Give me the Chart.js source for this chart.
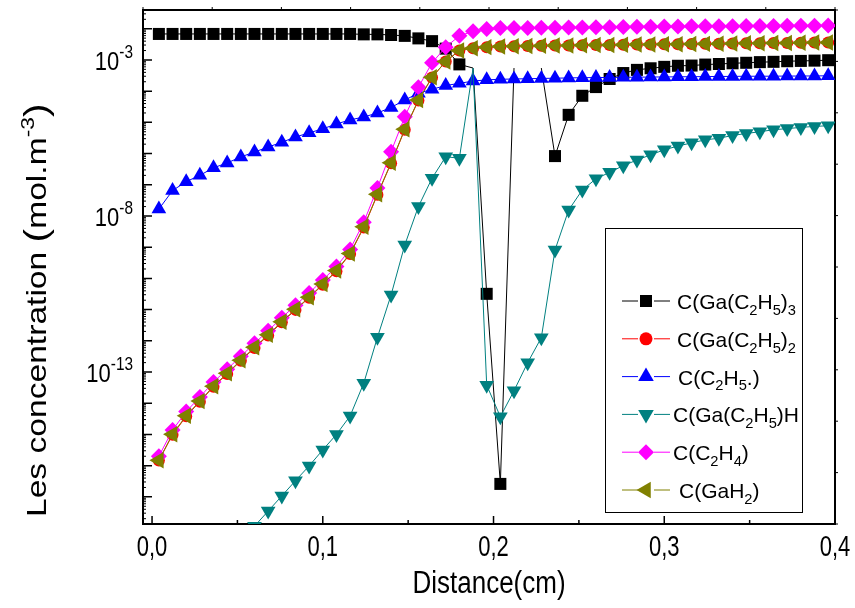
<!DOCTYPE html>
<html lang="fr">
<head>
<meta charset="UTF-8">
<title>Les concentration</title>
<script src="https://cdn.jsdelivr.net/npm/chart.js"></script>
<style>
  html, body { margin: 0; padding: 0; background: #fff; }
</style>
</head>
<body>
<canvas id="chart" width="855" height="608"></canvas>
<script>
// distance (cm), same grid for every species
const distance = [0.004, 0.012, 0.02, 0.028, 0.036, 0.044, 0.052, 0.06, 0.068, 0.076,
  0.084, 0.092, 0.1, 0.108, 0.116, 0.124, 0.132, 0.14, 0.148, 0.156,
  0.164, 0.172, 0.18, 0.188, 0.196, 0.204, 0.212, 0.22, 0.228, 0.236,
  0.244, 0.252, 0.26, 0.268, 0.276, 0.284, 0.292, 0.3, 0.308, 0.316,
  0.324, 0.332, 0.34, 0.348, 0.356, 0.364, 0.372, 0.38, 0.388, 0.396];

// concentrations (mol.m-3)
const cGaEt3 = [6.8e-3, 6.8e-3, 6.8e-3, 6.8e-3, 6.8e-3, 6.8e-3, 6.8e-3, 6.8e-3, 6.8e-3, 6.8e-3,
  6.8e-3, 6.8e-3, 6.8e-3, 6.8e-3, 6.8e-3, 6.6e-3, 6.6e-3, 6.3e-3, 5.9e-3, 4.9e-3,
  4.0e-3, 2.3e-3, 7.2e-4, 5.5e-4, 3.2e-11, 2.6e-17, 5.5e-4, null, 5.5e-4, 8.3e-7,
  1.74e-5, 7.1e-5, 1.35e-4, 2.45e-4, 3.8e-4, 4.8e-4, 5.4e-4, 6.0e-4, 6.5e-4, 6.6e-4,
  7.1e-4, 7.4e-4, 7.8e-4, 8.1e-4, 8.5e-4, 8.7e-4, 9.1e-4, 9.3e-4, 9.5e-4, 9.8e-4];
const cGaEt2 = [1.45e-16, 9.8e-16, 3.8e-15, 1.12e-14, 3.4e-14, 8.7e-14, 2.3e-13, 5.9e-13, 1.48e-12, 3.9e-12,
  9.8e-12, 2.4e-11, 6.3e-11, 1.7e-10, 6.0e-10, 4.3e-9, 4.8e-8, 4.9e-7, 5.8e-6, 5.0e-5,
  2.75e-4, 8.9e-4, 2.0e-3, 2.37e-3, 2.57e-3, 2.7e-3, 2.75e-3, 2.8e-3, 2.85e-3, 2.9e-3,
  2.92e-3, 2.95e-3, 2.99e-3, 3.0e-3, 3.05e-3, 3.1e-3, 3.13e-3, 3.16e-3, 3.2e-3, 3.24e-3,
  3.27e-3, 3.3e-3, 3.35e-3, 3.4e-3, 3.43e-3, 3.47e-3, 3.5e-3, 3.55e-3, 3.6e-3, 3.63e-3];
const cEt = [1.66e-8, 6.5e-8, 1.26e-7, 2.0e-7, 3.5e-7, 5.0e-7, 7.8e-7, 1.12e-6, 1.62e-6, 2.3e-6,
  3.4e-6, 4.6e-6, 6.2e-6, 8.9e-6, 1.2e-5, 1.48e-5, 2.0e-5, 3.0e-5, 5.2e-5, 8.5e-5,
  1.15e-4, 1.51e-4, 1.78e-4, 2.1e-4, 2.3e-4, 2.4e-4, 2.45e-4, 2.5e-4, 2.55e-4, 2.6e-4,
  2.65e-4, 2.7e-4, 2.72e-4, 2.75e-4, 2.78e-4, 2.8e-4, 2.83e-4, 2.85e-4, 2.88e-4, 2.9e-4,
  2.92e-4, 2.95e-4, 2.97e-4, 3.0e-4, 3.0e-4, 3.02e-4, 3.04e-4, 3.05e-4, 3.07e-4, 3.1e-4];
const cGaEtH = [null, null, null, null, null, null, null, 1.15e-18, 3.5e-18, 1.07e-17,
  3.3e-17, 9.8e-17, 3.2e-16, 1.0e-15, 3.9e-15, 4.4e-14, 1.29e-12, 2.95e-11, 1.17e-9, 2.0e-8,
  1.62e-7, 7.9e-7, 7.1e-7, 5.4e-4, 3.8e-14, 3.7e-15, 2.5e-14, 2.0e-13, 1.26e-12, 8.1e-10,
  1.55e-8, 6.8e-8, 1.55e-7, 2.5e-7, 4.1e-7, 6.2e-7, 9.1e-7, 1.32e-6, 1.74e-6, 2.2e-6,
  2.75e-6, 3.1e-6, 3.8e-6, 4.4e-6, 5.0e-6, 5.8e-6, 6.3e-6, 6.9e-6, 7.4e-6, 7.8e-6];
const cC2H4 = [2.0e-16, 1.38e-15, 5.4e-15, 1.58e-14, 4.8e-14, 1.23e-13, 3.2e-13, 8.3e-13, 2.1e-12, 5.5e-12,
  1.38e-11, 3.4e-11, 8.9e-11, 2.4e-10, 8.5e-10, 6.3e-9, 7.9e-8, 1.15e-6, 1.51e-5, 1.33e-4,
  8.1e-4, 2.57e-3, 5.9e-3, 8.3e-3, 9.8e-3, 1.05e-2, 1.05e-2, 1.06e-2, 1.07e-2, 1.08e-2,
  1.09e-2, 1.1e-2, 1.11e-2, 1.12e-2, 1.13e-2, 1.15e-2, 1.16e-2, 1.17e-2, 1.18e-2, 1.19e-2,
  1.2e-2, 1.2e-2, 1.21e-2, 1.22e-2, 1.22e-2, 1.23e-2, 1.24e-2, 1.24e-2, 1.25e-2, 1.26e-2];
const cGaH2 = [1.5e-16, 1.02e-15, 4.0e-15, 1.17e-14, 3.5e-14, 9.1e-14, 2.4e-13, 6.2e-13, 1.55e-12, 4.1e-12,
  1.02e-11, 2.5e-11, 6.6e-11, 1.78e-10, 6.3e-10, 4.5e-9, 5.0e-8, 5.1e-7, 6.0e-6, 5.2e-5,
  2.8e-4, 8.9e-4, 2.0e-3, 2.37e-3, 2.57e-3, 2.7e-3, 2.75e-3, 2.8e-3, 2.85e-3, 2.9e-3,
  2.92e-3, 2.95e-3, 2.99e-3, 3.0e-3, 3.05e-3, 3.1e-3, 3.13e-3, 3.16e-3, 3.2e-3, 3.24e-3,
  3.27e-3, 3.3e-3, 3.35e-3, 3.4e-3, 3.43e-3, 3.47e-3, 3.5e-3, 3.55e-3, 3.6e-3, 3.63e-3];

// points where the curve spikes but no symbol is shown
const noSymbolGaEt3 = [23, 26, 28];
const noSymbolGaEtH = [23];

// axis ticks
const xMajorTicks = [0, 0.1, 0.2, 0.3, 0.4];
const xTickLabels = ['0,0', '0,1', '0,2', '0,3', '0,4'];
const xMinorTicks = [0.05, 0.15, 0.25, 0.35];
const yDecades = [-17, -16, -15, -14, -13, -12, -11, -10, -9, -8, -7, -6, -5, -4, -3, -2];
const yLabelDecades = [-3, -8, -13];

const FONT = '"Liberation Sans", Arial, sans-serif';

function series(label, values, color, style, radius, rotation, order, hidden) {
  return {
    label: label,
    data: distance.map((x, i) => ({ x: x, y: values[i] })),
    borderColor: color,
    backgroundColor: color,
    borderWidth: 1,
    pointStyle: style,
    pointRotation: rotation,
    pointBorderWidth: 0,
    pointRadius: ctx => (hidden && hidden.includes(ctx.dataIndex)) ? 0 : radius,
    spanGaps: false,
    tension: 0,
    order: order
  };
}

// text helper: runs of normal / sub / sup text, with optional vertical stretch
function drawRuns(ctx, runs, x, y, size, stretch) {
  ctx.save();
  ctx.translate(x, y);
  ctx.scale(1, stretch || 1);
  let cx = 0;
  runs.forEach(r => {
    const s = r.k ? size * 0.7 : size;
    ctx.font = s + 'px ' + FONT;
    const dy = r.k === 'sub' ? size * 0.28 : r.k === 'sup' ? -size * 0.45 : 0;
    ctx.fillText(r.t, cx, dy);
    cx += ctx.measureText(r.t).width;
  });
  ctx.restore();
}

const legendItems = [
  { color: '#000000', style: 'rect', radius: 8.5, rot: 0, tx: 677,
    runs: [{ t: 'C(Ga(C' }, { t: '2', k: 'sub' }, { t: 'H' }, { t: '5', k: 'sub' }, { t: ')' }, { t: '3', k: 'sub' }] },
  { color: '#ff0000', style: 'circle', radius: 6.5, rot: 0, tx: 677,
    runs: [{ t: 'C(Ga(C' }, { t: '2', k: 'sub' }, { t: 'H' }, { t: '5', k: 'sub' }, { t: ')' }, { t: '2', k: 'sub' }] },
  { color: '#0000ff', style: 'triangle', radius: 9, rot: 0, tx: 678,
    runs: [{ t: 'C(C' }, { t: '2', k: 'sub' }, { t: 'H' }, { t: '5', k: 'sub' }, { t: '.)' }] },
  { color: '#008080', style: 'triangle', radius: 9, rot: 180, tx: 673,
    runs: [{ t: 'C(Ga(C' }, { t: '2', k: 'sub' }, { t: 'H' }, { t: '5', k: 'sub' }, { t: ')H' }] },
  { color: '#ff00ff', style: 'rectRot', radius: 8, rot: 0, tx: 673,
    runs: [{ t: 'C(C' }, { t: '2', k: 'sub' }, { t: 'H' }, { t: '4', k: 'sub' }, { t: ')' }] },
  { color: '#808000', style: 'triangle', radius: 9.5, rot: -90, tx: 679,
    runs: [{ t: 'C(GaH' }, { t: '2', k: 'sub' }, { t: ')' }] }
];

const decorPlugin = {
  id: 'decor',
  afterDraw(chart) {
    const ctx = chart.ctx;
    const a = chart.chartArea;
    const xs = chart.scales.x, ys = chart.scales.y, xt = chart.scales.xTop, yr = chart.scales.yRight;
    ctx.save();
    ctx.strokeStyle = '#000';
    ctx.fillStyle = '#000';

    // inward ticks on bottom / left
    ctx.lineWidth = 1.5;
    ctx.beginPath();
    xMajorTicks.forEach(v => { const p = xs.getPixelForValue(v); ctx.moveTo(p, a.bottom); ctx.lineTo(p, a.bottom - 8); });
    xMinorTicks.forEach(v => { const p = xs.getPixelForValue(v); ctx.moveTo(p, a.bottom); ctx.lineTo(p, a.bottom - 4); });
    yDecades.forEach(e => { const p = ys.getPixelForValue(Math.pow(10, e)); ctx.moveTo(a.left, p); ctx.lineTo(a.left + 9, p); });
    ctx.stroke();
    ctx.lineWidth = 1;
    ctx.beginPath();
    for (let e = -18; e <= -2; e++) {
      for (let m = 2; m <= 9; m++) {
        const v = m * Math.pow(10, e);
        if (v <= ys.min || v >= ys.max) continue;
        const p = ys.getPixelForValue(v);
        ctx.moveTo(a.left, p); ctx.lineTo(a.left + 3, p);
      }
    }
    // outward ticks on top / right (secondary axes)
    xt.ticks.forEach(t => { const p = xt.getPixelForValue(t.value); ctx.moveTo(p, a.top); ctx.lineTo(p, a.top - 3); });
    yr.ticks.forEach(t => { const p = yr.getPixelForValue(t.value); ctx.moveTo(a.right, p); ctx.lineTo(a.right + 3, p); });
    ctx.stroke();

    // tick labels
    ctx.textBaseline = 'alphabetic';
    xMajorTicks.forEach((v, i) => {
      ctx.font = '22px ' + FONT;
      const w = ctx.measureText(xTickLabels[i]).width;
      drawRuns(ctx, [{ t: xTickLabels[i] }], xs.getPixelForValue(v) - w / 2, 556, 22, 1.35);
    });
    yLabelDecades.forEach(e => {
      const p = ys.getPixelForValue(Math.pow(10, e));
      ctx.font = '22px ' + FONT;
      const w1 = ctx.measureText('10').width;
      ctx.font = (22 * 0.7) + 'px ' + FONT;
      const w2 = ctx.measureText(String(e)).width;
      drawRuns(ctx, [{ t: '10' }, { t: String(e), k: 'sup' }], 133 - w1 - w2, p + 10, 22, 1.2);
    });

    // axis titles
    ctx.font = '26px ' + FONT;
    const tw = ctx.measureText('Distance(cm)').width;
    drawRuns(ctx, [{ t: 'Distance(cm)' }], (a.left + a.right) / 2 - tw / 2, 593, 26, 1.2);

    ctx.save();
    ctx.translate(46, 517);
    ctx.rotate(-Math.PI / 2);
    ctx.scale(1.2, 1);
    let cx = 0;
    [{ t: 'Les concentration ', s: 28, dy: 0 }, { t: '(', s: 34, dy: 1 }, { t: 'mol.m', s: 28, dy: 0 },
     { t: '-3', s: 19, dy: -12 }, { t: ')', s: 34, dy: 1 }].forEach(r => {
      ctx.font = r.s + 'px ' + FONT;
      ctx.fillText(r.t, cx, r.dy);
      cx += ctx.measureText(r.t).width;
    });
    ctx.restore();

    // legend
    ctx.lineWidth = 1;
    ctx.strokeStyle = '#000';
    ctx.strokeRect(605.5, 228.5, 197, 284);
    legendItems.forEach((it, i) => {
      const y = 301 + i * 37.8;
      ctx.strokeStyle = it.color;
      ctx.fillStyle = it.color;
      ctx.beginPath();
      ctx.moveTo(622, y); ctx.lineTo(638, y);
      ctx.moveTo(654, y); ctx.lineTo(670, y);
      ctx.stroke();
      Chart.helpers.drawPoint(ctx, { pointStyle: it.style, radius: it.radius, rotation: it.rot, borderWidth: 0 }, 646, y);
      ctx.fillStyle = '#000';
      drawRuns(ctx, it.runs, it.tx, y + 8, 21, 1);
    });
    ctx.restore();
  }
};

new Chart(document.getElementById('chart'), {
  type: 'line',
  data: {
    datasets: [
      series('C(Ga(C2H5)3', cGaEt3, '#000000', 'rect', 8.5, 0, 6, noSymbolGaEt3),
      series('C(Ga(C2H5)2', cGaEt2, '#ff0000', 'circle', 6, 0, 5),
      series('C(C2H5.)', cEt, '#0000ff', 'triangle', 8.5, 0, 4),
      series('C(Ga(C2H5)H', cGaEtH, '#008080', 'triangle', 8.5, 180, 3, noSymbolGaEtH),
      series('C(C2H4)', cC2H4, '#ff00ff', 'rectRot', 8, 0, 2),
      series('C(GaH2)', cGaH2, '#808000', 'triangle', 9.5, -90, 1)
    ]
  },
  options: {
    responsive: false,
    animation: false,
    events: [],
    layout: { padding: { left: 143, top: 10, right: 20, bottom: 84 } },
    plugins: { legend: { display: false }, tooltip: { enabled: false } },
    scales: {
      x: {
        type: 'linear', min: -0.0053, max: 0.4,
        ticks: { display: false }, grid: { display: false, drawTicks: false },
        border: { display: true, color: '#000', width: 2 }
      },
      y: {
        type: 'logarithmic', min: 1.35e-18, max: 3.98e-2,
        ticks: { display: false }, grid: { display: false, drawTicks: false },
        border: { display: true, color: '#000', width: 2 }
      },
      xTop: {
        type: 'linear', position: 'top', min: 0, max: 10,
        ticks: { display: false, stepSize: 1 }, grid: { display: false, drawTicks: false },
        border: { display: true, color: '#000', width: 2 }
      },
      yRight: {
        type: 'linear', position: 'right', min: 0, max: 10,
        ticks: { display: false, stepSize: 1 }, grid: { display: false, drawTicks: false },
        border: { display: true, color: '#000', width: 2 }
      }
    }
  },
  plugins: [decorPlugin]
});
</script>
</body>
</html>
